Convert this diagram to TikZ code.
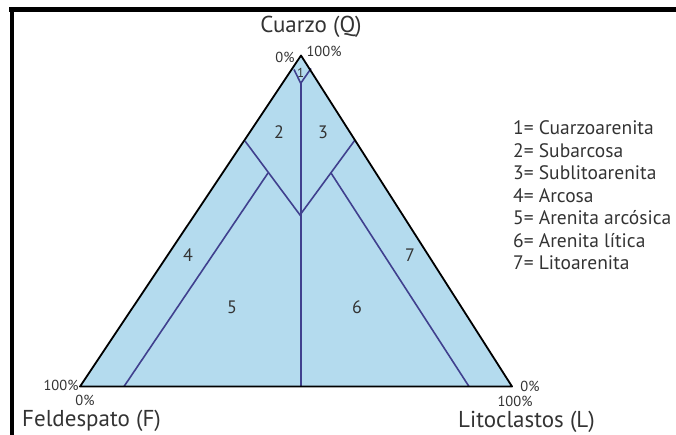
\documentclass[tikz,border=0pt]{standalone}
\usepackage{fontspec}
\setmainfont{PT Sans}
\begin{document}
\begin{tikzpicture}[x=1pt,y=-1pt,
  inner/.style={draw=innerblue,line width=1.6pt},
  edge/.style={draw=black,line width=1.8pt,line join=round},
  lbl/.style={text=txtgray,font=\fontsize{18}{20}\selectfont,inner sep=0pt},
  pct/.style={text=txtgray,font=\fontsize{14.5}{16}\selectfont,inner sep=0pt},
  ttl/.style={text=txtgray,font=\fontsize{23}{26}\selectfont,inner sep=0pt},
  leg/.style={text=txtgray,font=\fontsize{19.5}{22}\selectfont,inner sep=0pt,anchor=west}]
\definecolor{fillblue}{HTML}{B4DBEE}
\definecolor{innerblue}{HTML}{40408E}
\definecolor{txtgray}{HTML}{333333}
\useasboundingbox (0,0) rectangle (676,435);
% frame
\draw[line width=4.4pt] (9,9.5) -- (676,9.5);
\draw[line width=4.4pt] (11.7,7.3) -- (11.7,435);
% triangle
\coordinate (Q) at (301,55.5);
\coordinate (F) at (80,386.5);
\coordinate (L) at (512,386.5);
\fill[fillblue] (Q) -- (F) -- (L) -- cycle;
% inner lines
\coordinate (v1l) at (294,69.5);
\coordinate (v1r) at (311,68.5);
\coordinate (v1) at (300.7,83.3);
\coordinate (bm) at (300.7,386.5);
\coordinate (e2l) at (245,141);
\coordinate (e3r) at (355,140);
\coordinate (v2) at (300,215);
\coordinate (b4) at (268,173);
\coordinate (b7) at (331,173);
\coordinate (f4) at (124,386.5);
\coordinate (f7) at (469,386.5);
\draw[inner] (v1l) -- (v1) -- (v1r);
\draw[inner] (v1) -- (bm);
\draw[inner] (e2l) -- (v2) -- (e3r);
\draw[inner] (b4) -- (f4);
\draw[inner] (b7) -- (f7);
\draw[edge] (Q) -- (F) -- (L) -- cycle;
% region labels
\node[lbl,font=\fontsize{13}{15}\selectfont] (n1) at (300.7,73) {1};
\node[lbl] (n2) at (279,132) {2};
\node[lbl] (n3) at (323,132) {3};
\node[lbl] (n4) at (188,255) {4};
\node[lbl] (n5) at (232,307) {5};
\node[lbl] (n6) at (357,307) {6};
\node[lbl] (n7) at (410,255) {7};
% percent labels
\node[pct] (pq0) at (285,57) {0\%};
\node[pct] (pq100) at (324,51) {100\%};
\node[pct] (pf100) at (61,385) {100\%};
\node[pct] (pf0) at (85,400) {0\%};
\node[pct] (pl0) at (530,386) {0\%};
\node[pct] (pl100) at (515,401) {100\%};
% titles
\node[ttl] (tq) at (311,27) {Cuarzo (Q)};
\node[ttl,anchor=west] (tf) at (22,421) {Feldespato (F)};
\node[ttl,anchor=west] (tl) at (458,422) {Litoclastos (L)};
% legend
\node[leg] (l1) at (513,128) {1= Cuarzoarenita};
\node[leg] (l2) at (513,150.5) {2= Subarcosa};
\node[leg] (l3) at (513,173) {3= Sublitoarenita};
\node[leg] (l4) at (513,195.5) {4= Arcosa};
\node[leg] (l5) at (513,218) {5= Arenita arcósica};
\node[leg] (l6) at (513,240.5) {6= Arenita lítica};
\node[leg] (l7) at (513,263) {7= Litoarenita};
\end{tikzpicture}
\end{document}
